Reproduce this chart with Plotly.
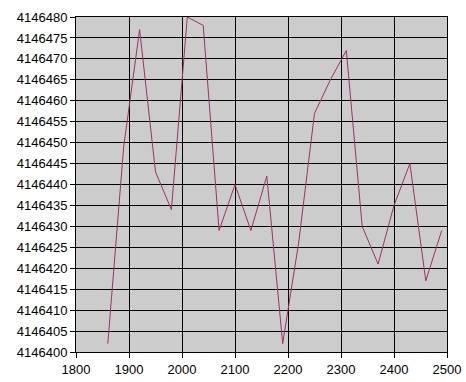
import plotly.graph_objects as go

x_vals = [1860, 1890, 1920, 1950, 1980, 2010, 2040, 2070, 2100, 2130, 2160,
          2190, 2220, 2250, 2280, 2310, 2340, 2370, 2400, 2430, 2460, 2490]
y_vals = [4146402, 4146449, 4146477, 4146443, 4146434, 4146480, 4146478,
          4146429, 4146440, 4146429, 4146442, 4146402, 4146426, 4146457,
          4146465, 4146472, 4146430, 4146421, 4146435, 4146445, 4146417,
          4146429]

fig = go.Figure(go.Scatter(x=x_vals, y=y_vals, mode="lines",
                           line=dict(color="#993366", width=1)))

axis_common = dict(showgrid=True, gridcolor="black", gridwidth=1,
                   showline=True, linecolor="black", linewidth=1, mirror=True,
                   ticks="outside", ticklen=5, tickcolor="black", zeroline=False,
                   automargin=False,
                   tickfont=dict(family="Liberation Sans, Arial", size=13, color="black"))

fig.update_layout(
    width=466, height=382,
    margin=dict(l=76, r=19, t=17, b=30),
    paper_bgcolor="white", plot_bgcolor="#CCCCCC",
    showlegend=False,
    xaxis=dict(range=[1800, 2500], dtick=100, tick0=1800, **axis_common),
    yaxis=dict(range=[4146400, 4146480], dtick=5, tick0=4146400,
               tickformat="d", **axis_common),
)

fig.write_html("out.html", config={"displayModeBar": False},
               post_script="document.body.style.margin='0';document.body.style.overflow='hidden';")
